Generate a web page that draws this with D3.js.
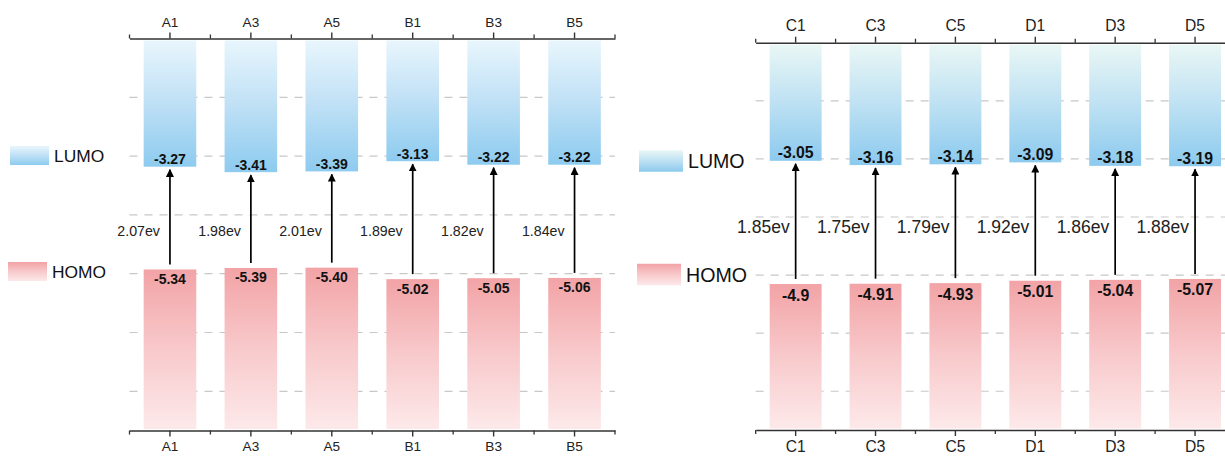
<!DOCTYPE html>
<html>
<head>
<meta charset="utf-8">
<script src="https://cdn.jsdelivr.net/npm/d3@7"></script>
<style>
  html, body { margin: 0; padding: 0; background: #fff; }
  svg { display: block; font-family: "Liberation Sans", Arial, sans-serif; }
</style>
</head>
<body>
<svg id="chart" width="1225" height="456"></svg>
<script>
// data
const leftCats = ["A1", "A3", "A5", "B1", "B3", "B5"];
const leftLumo = [-3.27, -3.41, -3.39, -3.13, -3.22, -3.22];
const leftHomo = [-5.34, -5.39, -5.40, -5.02, -5.05, -5.06];
const leftGap = [2.07, 1.98, 2.01, 1.89, 1.82, 1.84];

const rightCats = ["C1", "C3", "C5", "D1", "D3", "D5"];
const rightLumo = [-3.05, -3.16, -3.14, -3.09, -3.18, -3.19];
const rightHomo = [-4.9, -4.91, -4.93, -5.01, -5.04, -5.07];
const rightGap = [1.85, 1.75, 1.79, 1.92, 1.86, 1.88];

const gridValues = [1.5, 3, 4.5, 6, 7.5, 9];

const svg = d3.select("#chart");
const defs = svg.append("defs");

// arrow head
defs.append("marker")
    .attr("id", "arrow")
    .attr("viewBox", "0 0 10 10")
    .attr("refX", 9).attr("refY", 5)
    .attr("markerWidth", 8).attr("markerHeight", 8)
    .attr("markerUnits", "userSpaceOnUse")
    .attr("orient", "auto")
    .append("path")
    .attr("d", "M0,0 L10,5 L0,10 Z")
    .attr("fill", "#000");

function gradient(id, stops) {
    const g = defs.append("linearGradient")
        .attr("id", id)
        .attr("x1", 0).attr("y1", 0).attr("x2", 0).attr("y2", 1);
    stops.forEach(s => g.append("stop").attr("offset", s[0]).attr("stop-color", s[1]));
}
gradient("lumoL", [[0, "#e8f6fd"], [0.45, "#c3e2f6"], [1, "#8dcbef"]]);
gradient("lumoR", [[0, "#e9f7f5"], [0.45, "#c2e3f3"], [1, "#8ccaee"]]);
gradient("homo", [[0, "#f2a3a6"], [0.5, "#f8c9cb"], [1, "#fde9ea"]]);

function drawPanel(cfg) {
    const g = svg.append("g");
    const { top, bottom } = cfg;

    const x = d3.scaleBand()
        .domain(cfg.cats)
        .range(cfg.xRange)
        .paddingInner(0.35)
        .paddingOuter(0.175);
    // LUMO hangs from the top axis, HOMO stands on the bottom axis
    const yL = d3.scaleLinear().domain([0, 10]).range([top, bottom]);
    const yH = d3.scaleLinear().domain([0, 13]).range([bottom, top]);

    // dashed grid
    g.append("g").selectAll("line")
        .data(gridValues)
        .join("line")
        .attr("x1", cfg.xRange[0]).attr("x2", cfg.xRange[1])
        .attr("y1", d => yL(d)).attr("y2", d => yL(d))
        .attr("stroke", "#c8c8c8")
        .attr("stroke-width", 1.2)
        .attr("stroke-dasharray", "8,7");

    const rows = cfg.cats.map((c, i) => ({
        cat: c, lumo: cfg.lumo[i], homo: cfg.homo[i], gap: cfg.gap[i]
    }));

    // LUMO bars
    g.append("g").selectAll("rect")
        .data(rows)
        .join("rect")
        .attr("x", d => x(d.cat))
        .attr("width", x.bandwidth())
        .attr("y", yL(0) + 2)
        .attr("height", d => yL(-d.lumo) - yL(0) - 2)
        .attr("fill", `url(#${cfg.lumoGrad})`);

    // HOMO bars
    g.append("g").selectAll("rect")
        .data(rows)
        .join("rect")
        .attr("x", d => x(d.cat))
        .attr("width", x.bandwidth())
        .attr("y", d => yH(-d.homo))
        .attr("height", d => yH(0) - yH(-d.homo) - 1.5)
        .attr("fill", "url(#homo)");

    // value labels
    g.append("g").selectAll("text")
        .data(rows)
        .join("text")
        .attr("x", d => x(d.cat) + x.bandwidth() / 2)
        .attr("y", d => yL(-d.lumo) - cfg.lumoLabelOff)
        .attr("text-anchor", "middle")
        .attr("dominant-baseline", "central")
        .attr("font-size", cfg.valueFont)
        .attr("font-weight", "bold")
        .attr("fill", "#111")
        .text(d => cfg.fmt(d.lumo));

    g.append("g").selectAll("text")
        .data(rows)
        .join("text")
        .attr("x", d => x(d.cat) + x.bandwidth() / 2)
        .attr("y", d => yH(-d.homo) + cfg.homoLabelOff)
        .attr("text-anchor", "middle")
        .attr("dominant-baseline", "central")
        .attr("font-size", cfg.valueFont)
        .attr("font-weight", "bold")
        .attr("fill", "#111")
        .text(d => cfg.fmt(d.homo));

    // gap arrows
    g.append("g").selectAll("line")
        .data(rows)
        .join("line")
        .attr("x1", d => x(d.cat) + x.bandwidth() / 2)
        .attr("x2", d => x(d.cat) + x.bandwidth() / 2)
        .attr("y1", d => yH(-d.homo) - 5)
        .attr("y2", d => yL(-d.lumo) + 3)
        .attr("stroke", "#000")
        .attr("stroke-width", 1.7)
        .attr("marker-end", "url(#arrow)");

    g.append("g").selectAll("text")
        .data(rows)
        .join("text")
        .attr("x", d => x(d.cat) + x.bandwidth() / 2 - cfg.gapLabelDx)
        .attr("y", yL(cfg.gapLabelAt))
        .attr("text-anchor", "end")
        .attr("dominant-baseline", "central")
        .attr("font-size", cfg.gapFont)
        .attr("fill", "#222")
        .text(d => d.gap.toFixed(2) + "ev");

    // axes: top and bottom
    const minor = (sel, dir) => {
        sel.selectAll(".minor")
            .data(d3.range(cfg.cats.length + 1))
            .join("line")
            .attr("class", "minor")
            .attr("x1", i => cfg.xRange[0] + i * x.step())
            .attr("x2", i => cfg.xRange[0] + i * x.step())
            .attr("y1", 0).attr("y2", dir * 4)
            .attr("stroke", "#333")
            .attr("stroke-width", 1.3);
    };
    const styleAxis = (a, dir) => {
        a.select(".domain").attr("stroke", "#333").attr("stroke-width", 1.5);
        a.selectAll(".tick line").attr("stroke", "#333").attr("stroke-width", 1.4);
        a.selectAll(".tick text")
            .attr("font-size", cfg.tickFont)
            .attr("font-family", "Liberation Sans, Arial, sans-serif")
            .attr("fill", "#222");
        minor(a, dir);
    };

    const topAxis = g.append("g")
        .attr("transform", `translate(0,${top})`)
        .call(d3.axisTop(x).tickSize(6).tickSizeOuter(0).tickPadding(cfg.tickPad));
    styleAxis(topAxis, -1);

    const bottomAxis = g.append("g")
        .attr("transform", `translate(0,${bottom})`)
        .call(d3.axisBottom(x).tickSize(6).tickSizeOuter(0).tickPadding(cfg.tickPad - 1));
    styleAxis(bottomAxis, 1);

    // legend
    const leg = g.append("g");
    const lumoMid = cfg.legendLumoY, homoMid = cfg.legendHomoY;
    leg.append("rect")
        .attr("x", cfg.legendX).attr("y", lumoMid - cfg.swH / 2)
        .attr("width", cfg.swW).attr("height", cfg.swH)
        .attr("fill", `url(#${cfg.lumoGrad})`);
    leg.append("text")
        .attr("x", cfg.legendX + cfg.swW + 5).attr("y", lumoMid)
        .attr("dominant-baseline", "central")
        .attr("font-size", cfg.legendFont).attr("fill", "#111")
        .text("LUMO");
    leg.append("rect")
        .attr("x", cfg.legendX - 2).attr("y", homoMid - cfg.swH / 2)
        .attr("width", cfg.swW).attr("height", cfg.swH)
        .attr("fill", "url(#homo)");
    leg.append("text")
        .attr("x", cfg.legendX - 2 + cfg.swW + 5).attr("y", homoMid)
        .attr("dominant-baseline", "central")
        .attr("font-size", cfg.legendFont).attr("fill", "#111")
        .text("HOMO");
}

drawPanel({
    cats: leftCats, lumo: leftLumo, homo: leftHomo, gap: leftGap,
    xRange: [129.5, 615], top: 38.5, bottom: 430.5,
    lumoGrad: "lumoL",
    fmt: d => d.toFixed(2),
    valueFont: 14, tickFont: 13.6, gapFont: 14.2, legendFont: 17.4,
    lumoLabelOff: 7.5, homoLabelOff: 9.5,
    gapLabelDx: 10, gapLabelAt: 4.9, tickPad: 6,
    legendX: 10, legendLumoY: 155.5, legendHomoY: 271.5, swW: 39, swH: 19
});

drawPanel({
    cats: rightCats, lumo: rightLumo, homo: rightHomo, gap: rightGap,
    xRange: [755.7, 1235], top: 42.7, bottom: 430,
    lumoGrad: "lumoR",
    fmt: d => String(d),
    valueFont: 15.8, tickFont: 15.6, gapFont: 17.5, legendFont: 19.6,
    lumoLabelOff: 8, homoLabelOff: 11,
    gapLabelDx: 6, gapLabelAt: 4.75, tickPad: 6,
    legendX: 639, legendLumoY: 161, legendHomoY: 274.5, swW: 44, swH: 21.5
});
</script>
</body>
</html>
